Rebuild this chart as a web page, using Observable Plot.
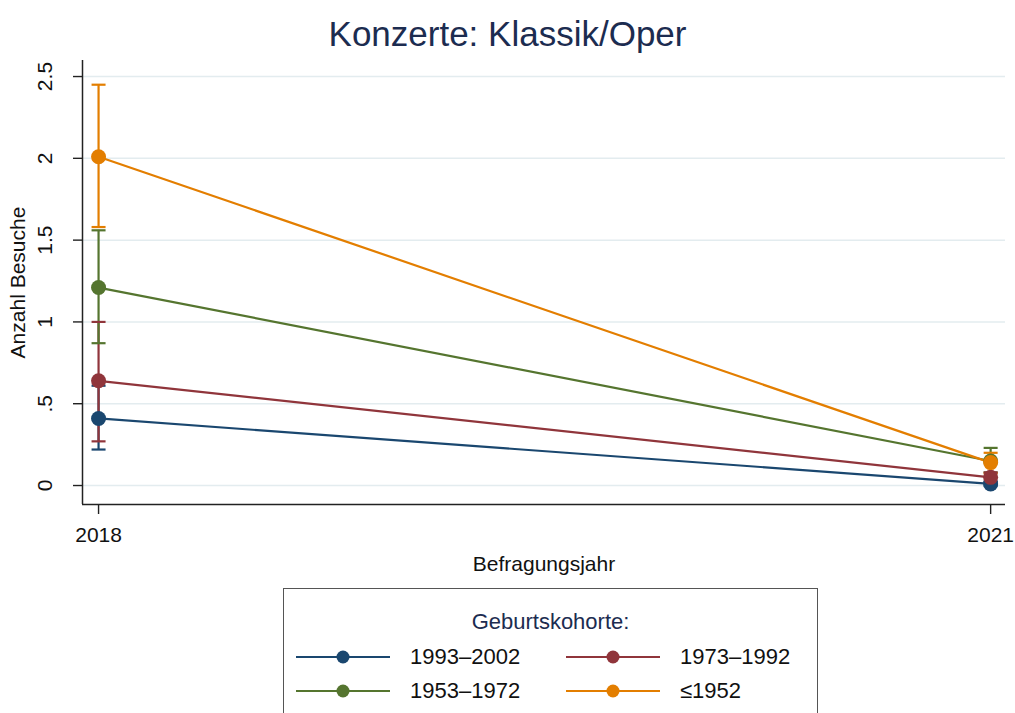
<!DOCTYPE html>
<html>
<head>
<meta charset="utf-8">
<script src="https://cdn.jsdelivr.net/npm/d3@7"></script>
<script src="https://cdn.jsdelivr.net/npm/@observablehq/plot@0.6"></script>
<style>
  html, body { margin: 0; padding: 0; background: #fff; overflow: hidden; }
  #wrap { position: relative; width: 1015px; height: 713px; font-family: "Liberation Sans", Arial, sans-serif; }
  #title { position: absolute; top: 14px; left: 0; width: 1015px; text-align: center; font-size: 35px; color: #1c2c50; }
  #chart { position: absolute; top: 0; left: 0; }
  #legend { position: absolute; left: 283px; top: 588px; width: 535px; height: 140px; border: 1.5px solid #555; box-sizing: border-box; }
  #legend .lt { position: absolute; top: 20px; left: 0; width: 100%; text-align: center; font-size: 22px; color: #1c2c50; }
  #legend .item { position: absolute; display: flex; align-items: center; font-size: 22px; color: #111; }
  #legend svg { display: block; margin-right: 18px; }
</style>
</head>
<body>
<div id="wrap">
  <div id="chart"></div>
  <div id="title">Konzerte: Klassik/Oper</div>
  <div id="legend"><div class="lt">Geburtskohorte:</div></div>
</div>
<script>
// ---- data ----
const cohorts = ["1993–2002", "1973–1992", "1953–1972", "≤1952"];
const colors = ["#1a476f", "#90353b", "#55752f", "#e37e00"];
const years = [2018, 2021];
const mean2018 = [0.41, 0.64, 1.21, 2.01];
const lo2018 = [0.22, 0.27, 0.87, 1.58];
const hi2018 = [0.61, 1.00, 1.56, 2.45];
const mean2021 = [0.01, 0.05, 0.15, 0.14];
const lo2021 = [0.00, 0.02, 0.08, 0.075];
const hi2021 = [0.025, 0.08, 0.23, 0.20];
const yTicks = [0, 0.5, 1, 1.5, 2, 2.5];
const yTickLabels = ["0", ".5", "1", "1.5", "2", "2.5"];

// ---- table ----
const rows = [];
cohorts.forEach((c, i) => {
  rows.push({cohort: c, year: years[0], mean: mean2018[i], lo: lo2018[i], hi: hi2018[i]});
  rows.push({cohort: c, year: years[1], mean: mean2021[i], lo: lo2021[i], hi: hi2021[i]});
});

const capSymbol = {
  draw(context, size) {
    const w = Math.sqrt(size / Math.PI);
    context.moveTo(-w, 0);
    context.lineTo(w, 0);
  }
};

const xDomain = [2017.946, 2021.05];
const yDomain = [-0.116, 2.598];

const plot = Plot.plot({
  width: 1015,
  height: 580,
  marginLeft: 82,
  marginRight: 10,
  marginTop: 60,
  marginBottom: 76,
  style: {fontFamily: "Liberation Sans, Arial, sans-serif", fontSize: "21px", color: "#111", background: "transparent"},
  x: {domain: xDomain},
  y: {domain: yDomain},
  color: {domain: cohorts, range: colors},
  marks: [
    Plot.gridY(yTicks, {stroke: "#e3ecef", strokeOpacity: 1, strokeWidth: 1.5}),
    Plot.axisY(yTicks, {
      tickFormat: (d) => yTickLabels[yTicks.indexOf(d)],
      tickSize: 9, tickRotate: -90, tickPadding: 22, stroke: "#222", strokeWidth: 1.4,
      label: "Anzahl Besuche", labelAnchor: "center", labelArrow: "none", labelOffset: 72
    }),
    Plot.axisX(years, {
      tickFormat: (d) => String(d), tickSize: 10, tickPadding: 13, stroke: "#222", strokeWidth: 1.4,
      label: "Befragungsjahr", labelAnchor: "center", labelArrow: "none", labelOffset: 66
    }),
    Plot.ruleX([xDomain[0]], {stroke: "#222", strokeWidth: 1.5}),
    Plot.ruleY([yDomain[0]], {stroke: "#222", strokeWidth: 1.5}),
    // confidence intervals
    Plot.ruleX(rows, {x: "year", y1: "lo", y2: "hi", stroke: "cohort", strokeWidth: 2.2}),
    Plot.dot(rows, {x: "year", y: "lo", symbol: capSymbol, r: 7, stroke: "cohort", strokeWidth: 2.2, fill: "none"}),
    Plot.dot(rows, {x: "year", y: "hi", symbol: capSymbol, r: 7, stroke: "cohort", strokeWidth: 2.2, fill: "none"}),
    // lines and markers
    Plot.line(rows, {x: "year", y: "mean", z: "cohort", stroke: "cohort", strokeWidth: 2.2}),
    Plot.dot(rows, {x: "year", y: "mean", fill: "cohort", r: 7.5, stroke: "none"})
  ]
});
document.getElementById("chart").appendChild(plot);

// ---- legend ----
const legend = document.getElementById("legend");
const pos = [[10, 68], [280, 68], [10, 102], [280, 102]];
cohorts.forEach((c, i) => {
  const item = document.createElement("div");
  item.className = "item";
  item.style.left = pos[i][0] + "px";
  item.style.top = (pos[i][1] - 13) + "px";
  item.innerHTML = `<svg width="98" height="26"><line x1="2" x2="96" y1="13" y2="13" stroke="${colors[i]}" stroke-width="2.2"/><circle cx="49" cy="13" r="6.5" fill="${colors[i]}"/></svg><span>${c}</span>`;
  legend.appendChild(item);
});
</script>
</body>
</html>
